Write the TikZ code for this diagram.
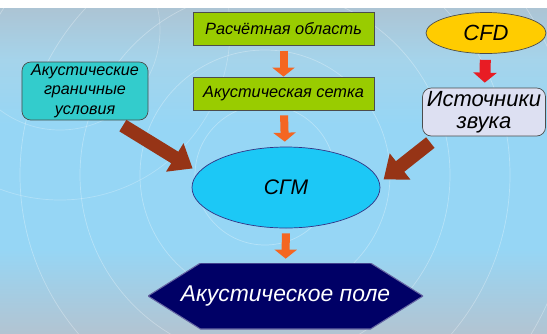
\documentclass[tikz,border=0pt]{standalone}
\usepackage{fontspec}
\setmainfont{Liberation Sans}
\usetikzlibrary{shapes.geometric,arrows.meta}

\definecolor{bgtop}{RGB}{172,196,212}
\definecolor{bgup}{RGB}{165,212,235}
\definecolor{bgmid}{RGB}{150,214,245}
\definecolor{bgbot}{RGB}{178,196,210}
\definecolor{meshgreen}{RGB}{153,204,0}
\definecolor{bcteal}{RGB}{51,204,204}
\definecolor{cgmblue}{RGB}{28,200,246}
\definecolor{fieldnavy}{RGB}{0,0,102}
\definecolor{cfdgold}{RGB}{255,204,0}
\definecolor{srclilac}{RGB}{221,224,242}
\definecolor{arrorange}{RGB}{244,102,34}
\definecolor{arrbrown}{RGB}{150,52,22}
\definecolor{arrred}{RGB}{232,28,36}

\pgfdeclareverticalshading{skybg}{100bp}{color(0bp)=(bgbot); color(25bp)=(bgbot);
  color(38bp)=(bgmid); color(57bp)=(bgmid); color(67bp)=(bgup); color(75bp)=(bgtop);
  color(100bp)=(bgtop)}

\begin{document}
\begin{tikzpicture}[
    stagebox/.style={draw=black!70, fill=meshgreen, minimum width=3.62cm,
        minimum height=0.65cm, inner sep=1pt, font=\fontsize{9.3}{11}\selectfont\itshape},
    sidebox/.style={draw=black!70, rounded corners=5pt, align=center, inner sep=1pt},
    flowarrow/.style={arrorange, line width=0.16cm,
        -{Triangle[length=0.18cm,width=0.44cm]}},
    feedarrow/.style={arrbrown, line width=0.27cm,
        -{Triangle[length=0.42cm,width=0.64cm]}},
    srcarrow/.style={arrred, line width=0.22cm,
        -{Triangle[length=0.2cm,width=0.46cm]}}
]
    \useasboundingbox (0,0) rectangle (10.94,-6.66);
    % background
    \fill[white] (0,0) rectangle (10.94,-0.16);
    \shade[shading=skybg] (0,-0.16) rectangle (10.94,-6.66);
    \begin{scope}
        \clip (0,-0.16) rectangle (10.94,-6.66);
        \foreach \r in {1.4,2.5,3.7,4.9,6.2}
            \draw[white, opacity=0.3] (5.3,-3.5) circle (\r);
        \foreach \r in {2.0,3.4}
            \draw[white, opacity=0.25] (1.2,-0.6) circle (\r);
    \end{scope}

    % main chain
    \node[stagebox] (domain) at (5.67,-0.58) {Расчётная область};
    \node[stagebox, minimum height=0.66cm] (mesh) at (5.67,-1.87) {Акустическая сетка};
    \node[ellipse, draw=fieldnavy!80, fill=cgmblue, minimum width=3.76cm,
        minimum height=1.62cm, font=\fontsize{12}{14}\selectfont\itshape]
        (cgm) at (5.72,-3.75) {СГМ};
    \node[minimum width=5.5cm, minimum height=1.32cm, text=white,
        font=\fontsize{13}{15}\selectfont\itshape,
        path picture={
            \filldraw[fill=fieldnavy, draw=fieldnavy!60, line width=0.6pt]
                (path picture bounding box.west)
                -- ([xshift=1.05cm]path picture bounding box.north west)
                -- ([xshift=-1.05cm]path picture bounding box.north east)
                -- (path picture bounding box.east)
                -- ([xshift=-1.05cm]path picture bounding box.south east)
                -- ([xshift=1.05cm]path picture bounding box.south west) -- cycle;
        }]
        (field) at (5.71,-5.92) {Акустическое поле};

    % side inputs
    \node[sidebox, fill=bcteal, minimum width=2.52cm, minimum height=1.16cm,
        font=\fontsize{9.2}{11.3}\selectfont\itshape]
        (bcond) at (1.70,-1.82) {Акустические\\граничные\\условия};
    \node[ellipse, draw=black!70, fill=cfdgold, minimum width=2.4cm,
        minimum height=0.82cm, font=\fontsize{12.5}{14}\selectfont\itshape]
        (cfd) at (9.72,-0.66) {CFD};
    \node[sidebox, fill=srclilac, minimum width=2.46cm, minimum height=0.96cm,
        font=\fontsize{12.5}{12.5}\selectfont\itshape]
        (sources) at (9.68,-2.24) {Источники\\звука};

    % arrows
    \draw[flowarrow, shorten <=0.1cm] (domain) -- (mesh);
    \draw[flowarrow, shorten <=0.1cm, shorten >=0.1cm] (mesh) -- (cgm);
    \draw[flowarrow, shorten <=0.1cm, shorten >=0.08cm] (cgm) -- (field);
    \draw[srcarrow, shorten <=0.12cm, shorten >=0.1cm] (cfd) -- (sources);
    \draw[feedarrow, shorten <=0.2cm, shorten >=0.14cm] (bcond.-45) -- (cgm.170);
    \draw[feedarrow, shorten <=0.2cm, shorten >=0.1cm] (sources.-152) -- (cgm.3);
\end{tikzpicture}
\end{document}
